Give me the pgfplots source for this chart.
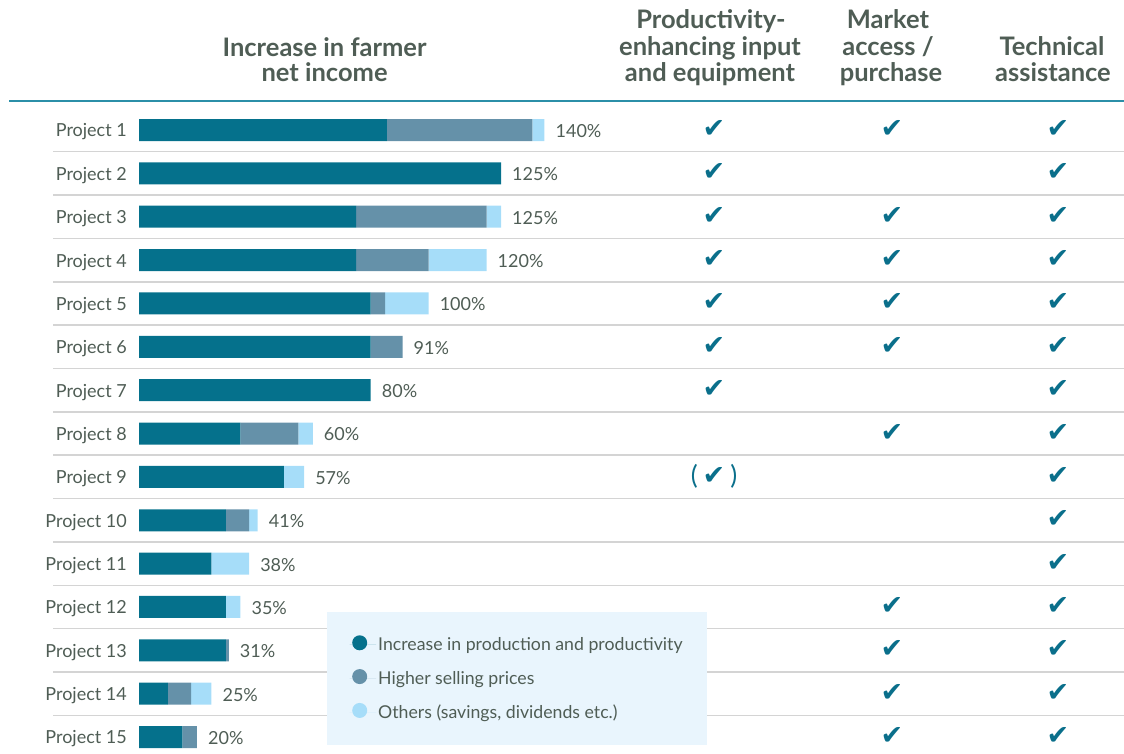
\documentclass[border=0pt]{standalone}
\usepackage{fontspec}
\setmainfont{Lato}
\newfontfamily\dejavu{DejaVu Sans}
\usepackage{pgfplots}
\usepackage{pgfplotstable}
\pgfplotsset{compat=1.18}
\definecolor{cA}{HTML}{05718C}
\definecolor{cB}{HTML}{6591A9}
\definecolor{cC}{HTML}{A6DDF9}
\definecolor{txt}{HTML}{4F5D55}
\definecolor{chk}{HTML}{0A6F8B}
\definecolor{legbg}{HTML}{E9F5FD}
\definecolor{sepc}{HTML}{D4D4D4}
\definecolor{topline}{HTML}{2B8FA8}

\pgfplotstableread{
row d g o total
1 85.6 50.2 4.2 140
2 125 0 0 125
3 75 45 5 125
4 75 25 20 120
5 80 5 15 100
6 80 11 0 91
7 80 0 0 80
8 35 20 5 60
9 50 0 7 57
10 30 8 3 41
11 25 0 13 38
12 30 0 5 35
13 30 1 0 31
14 10 8 7 25
15 15 5 0 20
}\bars

\pgfplotstableread{
x row
714 1
892 1
1058 1
714 2
1058 2
714 3
892 3
1058 3
714 4
892 4
1058 4
714 5
892 5
1058 5
714 6
892 6
1058 6
714 7
1058 7
892 8
1058 8
1058 9
1058 10
1058 11
892 12
1058 12
892 13
1058 13
892 14
1058 14
892 15
1058 15
}\checks

\pgfplotstableread{
x row
714 9
}\pchecks

\newcommand{\chk}{{\dejavu\fontsize{27}{27}\selectfont ✔}}

\begin{document}
\begin{tikzpicture}
\path[use as bounding box] (0pt,0pt) rectangle (1124pt,-753pt);
\draw[topline, line width=2pt] (9pt,-100.7pt) -- (1124pt,-100.7pt);
\begin{scope}[every node/.style={font=\fontsize{25.5}{27}\selectfont\bfseries, text=txt, anchor=base, inner sep=0pt}]
\node at (324.6pt,-56.7pt) {Increase in farmer};
\node at (324.6pt,-81.7pt) {net income};
\node at (711pt,-28.3pt) {Productivity-};
\node at (710pt,-55pt) {enhancing input};
\node at (710pt,-81.7pt) {and equipment};
\node at (888pt,-28.3pt) {Market};
\node at (888pt,-55pt) {access /};
\node at (891pt,-81.7pt) {purchase};
\node at (1052pt,-55pt) {Technical};
\node at (1053pt,-81.7pt) {assistance};
\end{scope}

\begin{axis}[name=grid, at={(0pt,-108.32pt)}, anchor=north west, scale only axis,
  width=1124pt, height=641.73pt, xmin=0, xmax=1124, ymin=0.5, ymax=15.3,
  y dir=reverse, hide axis, clip=false]
\pgfplotsinvokeforeach{1.5,2.5,...,14.5}{\draw[sepc, line width=1.6pt] (axis cs:53,#1) -- (axis cs:1124,#1);}
\addplot[only marks, mark=none, nodes near coords={\chk},
  every node near coord/.append style={anchor=center, text=chk, inner sep=0pt, yshift=1pt}]
  table[x=x,y=row] {\checks};
\addplot[only marks, mark=none, nodes near coords={{\fontsize{26}{26}\selectfont(}\hspace{5pt}\chk\hspace{5pt}{\fontsize{26}{26}\selectfont)}},
  every node near coord/.append style={anchor=center, text=chk, inner sep=0pt, yshift=1pt}]
  table[x=x,y=row] {\pchecks};
\end{axis}

\begin{axis}[at={(139pt,-108.32pt)}, anchor=north west, scale only axis,
  width=434.4pt, height=641.73pt,
  xmin=0, xmax=150, ymin=0.5, ymax=15.3, y dir=reverse, hide axis, clip=false]
\addplot[only marks, mark=none, point meta=explicit,
  nodes near coords={\pgfmathprintnumber[assume math mode=true]{\pgfplotspointmeta}\%},
  every node near coord/.append style={anchor=west, inner sep=0pt, xshift=11pt, yshift=-1pt, font=\fontsize{18}{18}\selectfont, text=txt}]
  table[x=total, y=row, meta=total] {\bars};
\end{axis}

\begin{axis}[at={(139pt,-108.32pt)}, anchor=north west, scale only axis,
  width=434.4pt, height=641.73pt, xbar stacked, bar width=22pt,
  xmin=0, xmax=150, ymin=0.5, ymax=15.3, y dir=reverse,
  axis x line=none, axis y line*=left, y axis line style={draw=none},
  ytick={1,...,15},
  yticklabels={Project 1,Project 2,Project 3,Project 4,Project 5,Project 6,Project 7,Project 8,Project 9,Project 10,Project 11,Project 12,Project 13,Project 14,Project 15},
  major tick length=0pt,
  yticklabel style={font=\fontsize{18}{18}\selectfont, text=txt, inner xsep=0pt, xshift=-12pt, yshift=-2pt},
  clip=false,
  legend style={at={(axis description cs:0.4328,0.215)}, anchor=north west, fill=legbg, draw=none,
    inner xsep=22.5pt, inner ysep=23pt, row sep=15pt, font=\fontsize{17.7}{17.7}\selectfont, text=txt},
  legend cell align=left,
  legend image code/.code={\fill[#1] (10pt,2pt) circle (7.5pt); \path (0pt,0pt) -- (26.5pt,0pt);}
]
\addplot[fill=cA, draw=none] table[x=d, y=row] {\bars};
\addlegendentry{Increase in production and productivity}
\addplot[fill=cB, draw=none] table[x=g, y=row] {\bars};
\addlegendentry{Higher selling prices}
\addplot[fill=cC, draw=none] table[x=o, y=row] {\bars};
\addlegendentry{Others (savings, dividends etc.)}
\end{axis}
\end{tikzpicture}
\end{document}
